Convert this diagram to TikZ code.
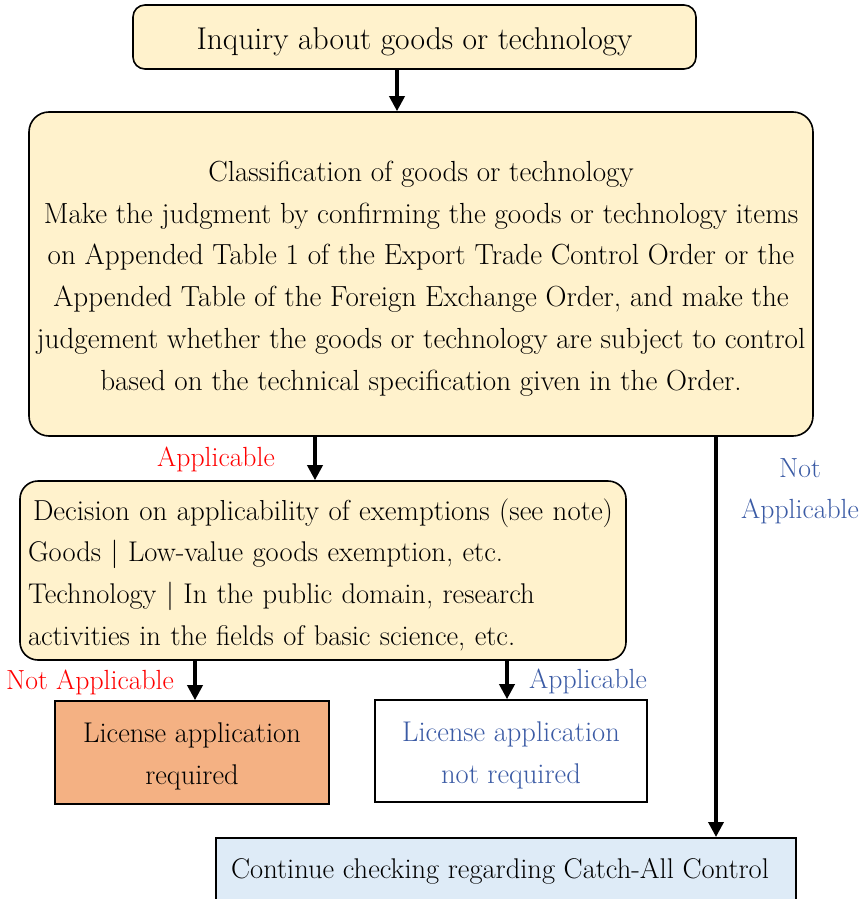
\documentclass[tikz,border=0pt]{standalone}
\usetikzlibrary{arrows.meta}
\definecolor{boxyellow}{HTML}{FFF2CC}
\definecolor{boxorange}{HTML}{F4B183}
\definecolor{boxblue}{HTML}{DEEBF7}
\definecolor{lblblue}{HTML}{3B5BA5}
\definecolor{lblred}{HTML}{FF0000}
\tikzset{
  base/.style={draw=black, line width=1.6pt, inner sep=0pt},
  roundbox/.style={base, rounded corners=12pt, fill=boxyellow},
  plainbox/.style={base, rectangle},
  txt/.style={inner sep=0pt, font=\fontsize{28.5}{41.7}\selectfont},
  flow/.style={line width=3.5pt, -{Triangle[length=15pt,width=15pt]}},
  lbl/.style={inner sep=0pt, font=\fontsize{27.7}{41}\selectfont},
}
\begin{document}
\begin{tikzpicture}[x=1pt,y=-1pt]
\useasboundingbox (0,0) rectangle (867,899);
\clip (0,0) rectangle (867,899);
% top
\node[roundbox, minimum width=563pt, minimum height=64pt] (inq) at (414.5,37) {};
\node[txt, font=\fontsize{31.5}{41.7}\selectfont] (inqtxt) at ([yshift=-5pt]inq.center) {Inquiry about goods or technology};
% classification
\node[roundbox, rounded corners=20pt, minimum width=784pt, minimum height=324pt] (cls) at (421,274) {};
\node[txt, font=\fontsize{29.1}{41.7}\selectfont, align=center] (clstxt) at ([yshift=-4.5pt]cls.center)
 {Classification of goods or technology\\
  Make the judgment by confirming the goods or technology items\\
  on Appended Table 1 of the Export Trade Control Order or the\\
  Appended Table of the Foreign Exchange Order, and make the\\
  judgement whether the goods or technology are subject to control\\
  based on the technical specification given in the Order.};
% decision
\node[roundbox, rounded corners=18pt, minimum width=606pt, minimum height=179pt] (dec) at (323,570.5) {};
\node[txt, text width=590pt, align=left] (dectxt) at ([yshift=-4pt]dec.center)
 {\makebox[590pt][c]{\fontsize{28.9}{41.7}\selectfont Decision on applicability of exemptions (see note)}\\
  Goods | Low-value goods exemption, etc.\\
  Technology | In the public domain, research\\
  activities in the fields of basic science, etc.};
% license required
\node[plainbox, fill=boxorange, minimum width=274pt, minimum height=103pt] (req) at (192,752.5) {};
\node[txt, align=center] (reqtxt) at ([yshift=-4pt]req.center) {License application\\required};
% not required
\node[plainbox, fill=white, minimum width=272pt, minimum height=102pt] (nreq) at (511,751) {};
\node[txt, align=center, text=lblblue] (nreqtxt) at ([yshift=-4.5pt]nreq.center) {License application\\not required};
% catch-all
\node[plainbox, fill=boxblue, minimum width=580pt, minimum height=80pt, anchor=north] (catch) at (506,837) {};
\node[txt, anchor=base] (catchtxt) at (500,878) {Continue checking regarding Catch-All Control};
% connectors
\draw[flow] (inq.south -| 397,0) -- (cls.north -| 397,0);
\draw[flow] (cls.south -| 315,0) -- (dec.north -| 315,0);
\draw[flow] (cls.south -| 716,0) -- (catch.north -| 716,0);
\draw[flow] (dec.south -| 195,0) -- (req.north -| 195,0);
\draw[flow] (dec.south -| 507,0) -- (nreq.north -| 507,0);
% labels
\node[lbl, text=lblred] (l1) at (216,459) {Applicable};
\node[lbl, text=lblblue, align=center] (l2) at (800,491) {Not\\Applicable};
\node[lbl, text=lblred] (l3) at (90,682) {Not Applicable};
\node[lbl, text=lblblue] (l4) at (588,681) {Applicable};
\end{tikzpicture}
\end{document}
